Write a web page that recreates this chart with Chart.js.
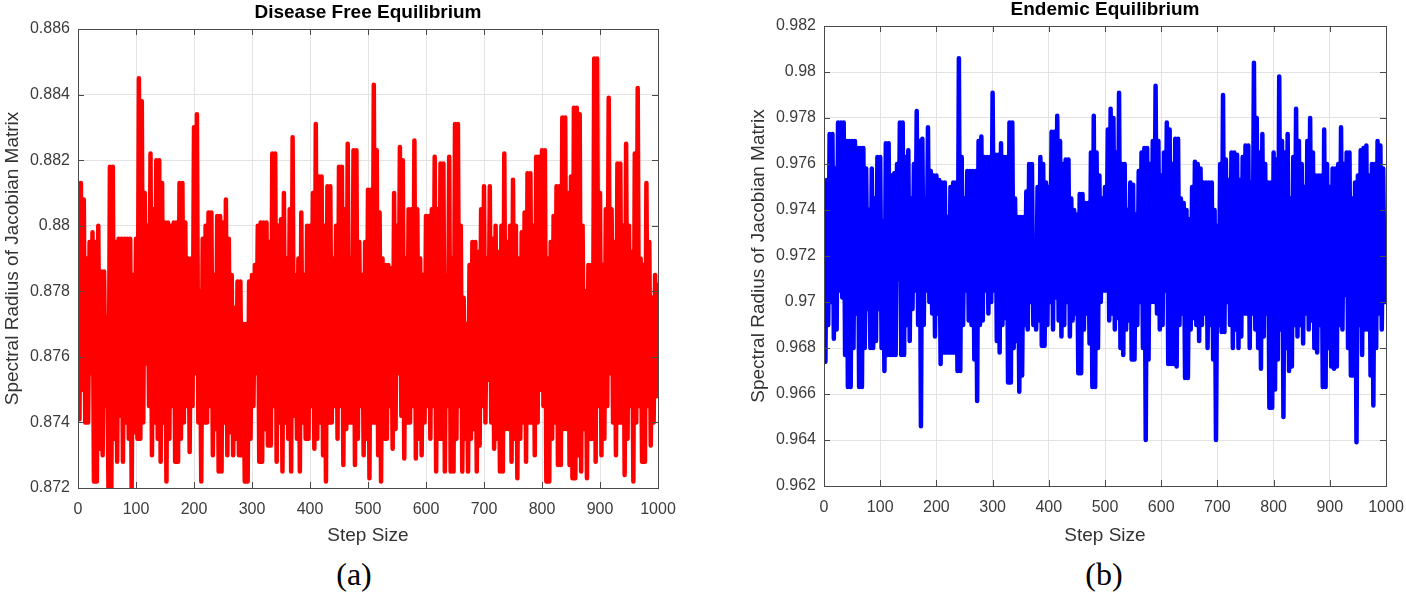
<!DOCTYPE html>
<html>
<head>
<meta charset="utf-8">
<script src="https://cdn.jsdelivr.net/npm/chart.js@4.4.1/dist/chart.umd.min.js"></script>
<style>
  body { margin: 0; background: #fff; width: 1406px; height: 593px; position: relative; overflow: hidden; }
  .panel { position: absolute; top: 0; height: 552px; }
  #panelA { left: 0; width: 700px; }
  #panelB { left: 700px; width: 706px; }
  .tag { position: absolute; top: 555px; width: 80px; text-align: center; font-family: "Liberation Serif", "Times New Roman", serif; font-size: 32px; color: #000; line-height: 38px; }
</style>
</head>
<body>
<div class="panel" id="panelA"><canvas id="chartA"></canvas></div>
<div class="panel" id="panelB"><canvas id="chartB"></canvas></div>
<div class="tag" style="left:314px">(a)</div>
<div class="tag" style="left:1064px">(b)</div>
<script>
// Spectral radius: local max (hi) at steps 0,5,...,1000
// and local min (lo) at steps 2.5,7.5,...,997.5
const hiA = [
  0.8813,0.8813,0.8808,0.8790,0.8795,0.8798,0.8795,0.8800,0.8786,0.8786,
  0.8772,0.8818,0.8818,0.8795,0.8796,0.8796,0.8796,0.8796,0.8796,0.8785,
  0.8796,0.8845,0.8838,0.8810,0.8800,0.8822,0.8805,0.8820,0.8820,0.8813,
  0.8801,0.8801,0.8800,0.8801,0.8801,0.8813,0.8813,0.8801,0.8790,0.8790,
  0.8830,0.8834,0.8780,0.8796,0.8800,0.8804,0.8804,0.8785,0.8803,0.8803,
  0.8801,0.8808,0.8796,0.8785,0.8775,0.8783,0.8783,0.8770,0.8770,0.8783,
  0.8785,0.8788,0.8800,0.8801,0.8801,0.8801,0.8795,0.8822,0.8822,0.8800,
  0.8802,0.8810,0.8790,0.8805,0.8827,0.8785,0.8790,0.8804,0.8785,0.8800,
  0.8800,0.8810,0.8831,0.8815,0.8815,0.8800,0.8812,0.8812,0.8790,0.8800,
  0.8818,0.8818,0.8805,0.8825,0.8790,0.8823,0.8823,0.8795,0.8785,0.8795,
  0.8811,0.8811,0.8843,0.8823,0.8804,0.8790,0.8788,0.8788,0.8787,0.8810,
  0.8800,0.8824,0.8820,0.8790,0.8805,0.8805,0.8826,0.8805,0.8790,0.8785,
  0.8803,0.8803,0.8805,0.8821,0.8805,0.8819,0.8819,0.8785,0.8821,0.8790,
  0.8831,0.8831,0.8800,0.8778,0.8770,0.8788,0.8795,0.8795,0.8792,0.8805,
  0.8812,0.8790,0.8812,0.8796,0.8800,0.8792,0.8800,0.8822,0.8795,0.8800,
  0.8814,0.8800,0.8790,0.8798,0.8804,0.8816,0.8816,0.8800,0.8821,0.8821,
  0.8823,0.8823,0.8790,0.8795,0.8803,0.8812,0.8812,0.8833,0.8833,0.8810,
  0.8815,0.8836,0.8836,0.8834,0.8800,0.8780,0.8788,0.8788,0.8851,0.8851,
  0.8810,0.8788,0.8805,0.8839,0.8805,0.8795,0.8819,0.8819,0.8800,0.8825,
  0.8800,0.8792,0.8822,0.8842,0.8790,0.8788,0.8813,0.8795,0.8778,0.8785,
  0.8782
];
const loA = [
  0.8741,0.8750,0.8740,0.8740,0.8755,0.8722,0.8722,0.8732,0.8730,0.8745,
  0.8720,0.8720,0.8735,0.8728,0.8742,0.8728,0.8740,0.8735,0.8720,0.8737,
  0.8735,0.8735,0.8740,0.8758,0.8745,0.8730,0.8740,0.8735,0.8728,0.8740,
  0.8722,0.8735,0.8745,0.8728,0.8728,0.8735,0.8740,0.8745,0.8731,0.8745,
  0.8755,0.8740,0.8722,0.8740,0.8740,0.8745,0.8730,0.8738,0.8725,0.8725,
  0.8740,0.8730,0.8737,0.8730,0.8735,0.8730,0.8730,0.8722,0.8722,0.8735,
  0.8745,0.8755,0.8728,0.8728,0.8738,0.8733,0.8733,0.8745,0.8728,0.8740,
  0.8725,0.8740,0.8735,0.8725,0.8742,0.8735,0.8725,0.8740,0.8735,0.8735,
  0.8745,0.8732,0.8735,0.8740,0.8730,0.8722,0.8740,0.8740,0.8745,0.8735,
  0.8745,0.8727,0.8738,0.8740,0.8740,0.8727,0.8735,0.8745,0.8730,0.8735,
  0.8723,0.8740,0.8740,0.8730,0.8722,0.8735,0.8735,0.8745,0.8732,0.8738,
  0.8755,0.8742,0.8729,0.8740,0.8740,0.8745,0.8729,0.8735,0.8730,0.8740,
  0.8745,0.8735,0.8745,0.8725,0.8735,0.8735,0.8725,0.8745,0.8725,0.8725,
  0.8735,0.8745,0.8725,0.8735,0.8725,0.8735,0.8738,0.8725,0.8733,0.8745,
  0.8740,0.8753,0.8740,0.8732,0.8735,0.8725,0.8725,0.8738,0.8738,0.8728,
  0.8735,0.8723,0.8735,0.8740,0.8728,0.8740,0.8740,0.8730,0.8740,0.8750,
  0.8745,0.8722,0.8722,0.8735,0.8740,0.8727,0.8727,0.8738,0.8738,0.8727,
  0.8723,0.8723,0.8730,0.8725,0.8738,0.8723,0.8735,0.8735,0.8728,0.8745,
  0.8730,0.8735,0.8745,0.8755,0.8740,0.8730,0.8740,0.8740,0.8724,0.8735,
  0.8745,0.8722,0.8740,0.8745,0.8728,0.8728,0.8745,0.8733,0.8740,0.8748
];
const hiB = [
  0.9747,0.9753,0.9773,0.9773,0.9758,0.9778,0.9778,0.9778,0.9770,0.9770,
  0.9770,0.9770,0.9767,0.9767,0.9767,0.9758,0.9740,0.9758,0.9745,0.9763,
  0.9763,0.9735,0.9769,0.9769,0.9755,0.9756,0.9760,0.9778,0.9778,0.9763,
  0.9766,0.9745,0.9760,0.9783,0.9770,0.9771,0.9745,0.9776,0.9757,0.9755,
  0.9755,0.9753,0.9752,0.9752,0.9737,0.9750,0.9752,0.9752,0.9806,0.9763,
  0.9745,0.9757,0.9757,0.9757,0.9757,0.9770,0.9772,0.9763,0.9763,0.9763,
  0.9791,0.9764,0.9764,0.9769,0.9763,0.9763,0.9778,0.9778,0.9745,0.9737,
  0.9737,0.9737,0.9748,0.9760,0.9760,0.9725,0.9750,0.9763,0.9760,0.9752,
  0.9750,0.9774,0.9774,0.9781,0.9770,0.9760,0.9762,0.9762,0.9745,0.9740,
  0.9738,0.9747,0.9747,0.9743,0.9743,0.9765,0.9781,0.9765,0.9755,0.9745,
  0.9750,0.9775,0.9784,0.9780,0.9765,0.9791,0.9760,0.9760,0.9740,0.9752,
  0.9751,0.9738,0.9757,0.9765,0.9767,0.9767,0.9760,0.9770,0.9794,0.9770,
  0.9755,0.9765,0.9778,0.9775,0.9760,0.9771,0.9771,0.9745,0.9743,0.9740,
  0.9736,0.9750,0.9761,0.9760,0.9758,0.9752,0.9752,0.9752,0.9752,0.9740,
  0.9733,0.9760,0.9790,0.9762,0.9753,0.9765,0.9765,0.9764,0.9753,0.9763,
  0.9768,0.9768,0.9752,0.9804,0.9780,0.9765,0.9773,0.9760,0.9752,0.9752,
  0.9765,0.9762,0.9798,0.9770,0.9765,0.9773,0.9745,0.9763,0.9784,0.9770,
  0.9760,0.9750,0.9770,0.9780,0.9765,0.9755,0.9755,0.9755,0.9775,0.9760,
  0.9750,0.9758,0.9758,0.9760,0.9776,0.9760,0.9765,0.9765,0.9745,0.9752,
  0.9755,0.9766,0.9767,0.9768,0.9755,0.9760,0.9760,0.9770,0.9768,0.9758,
  0.9732
];
const loB = [
  0.9674,0.9690,0.9700,0.9684,0.9688,0.9705,0.9702,0.9677,0.9663,0.9663,
  0.9680,0.9695,0.9663,0.9663,0.9680,0.9697,0.9680,0.9680,0.9683,0.9697,
  0.9680,0.9670,0.9677,0.9677,0.9677,0.9677,0.9710,0.9677,0.9677,0.9690,
  0.9683,0.9697,0.9705,0.9690,0.9646,0.9690,0.9705,0.9700,0.9695,0.9685,
  0.9695,0.9673,0.9678,0.9678,0.9678,0.9678,0.9678,0.9670,0.9670,0.9690,
  0.9705,0.9692,0.9690,0.9675,0.9657,0.9690,0.9692,0.9705,0.9695,0.9700,
  0.9705,0.9683,0.9678,0.9690,0.9693,0.9665,0.9665,0.9680,0.9683,0.9661,
  0.9668,0.9690,0.9688,0.9700,0.9690,0.9688,0.9692,0.9681,0.9681,0.9690,
  0.9700,0.9688,0.9702,0.9692,0.9685,0.9690,0.9700,0.9685,0.9692,0.9695,
  0.9669,0.9669,0.9688,0.9695,0.9682,0.9663,0.9663,0.9680,0.9700,0.9705,
  0.9705,0.9692,0.9695,0.9688,0.9693,0.9680,0.9677,0.9688,0.9692,0.9675,
  0.9675,0.9690,0.9700,0.9680,0.9640,0.9675,0.9700,0.9700,0.9695,0.9688,
  0.9690,0.9705,0.9673,0.9673,0.9673,0.9672,0.9690,0.9695,0.9667,0.9667,
  0.9688,0.9693,0.9690,0.9683,0.9690,0.9695,0.9680,0.9690,0.9675,0.9640,
  0.9690,0.9687,0.9687,0.9700,0.9690,0.9680,0.9688,0.9680,0.9685,0.9695,
  0.9695,0.9680,0.9695,0.9688,0.9680,0.9671,0.9685,0.9695,0.9654,0.9654,
  0.9662,0.9675,0.9688,0.9650,0.9680,0.9670,0.9672,0.9690,0.9685,0.9690,
  0.9682,0.9695,0.9688,0.9692,0.9680,0.9678,0.9690,0.9663,0.9663,0.9680,
  0.9672,0.9671,0.9672,0.9690,0.9688,0.9703,0.9680,0.9668,0.9668,0.9639,
  0.9690,0.9677,0.9688,0.9688,0.9668,0.9655,0.9680,0.9695,0.9688,0.9700
];

// step positions of the samples and axis ticks
const hiSteps = hiA.map((_, i) => i * 5);
const loSteps = loA.map((_, i) => i * 5 + 2.5);
const xTicks = [0, 100, 200, 300, 400, 500, 600, 700, 800, 900, 1000];
const yTicksA = [0.872, 0.874, 0.876, 0.878, 0.88, 0.882, 0.884, 0.886];
const yTicksB = [0.962, 0.964, 0.966, 0.968, 0.97, 0.972, 0.974, 0.976, 0.978, 0.98, 0.982];

Chart.defaults.font.family = '"Liberation Sans", Arial, sans-serif';

function zigzag(hi, lo) {
  const pts = [];
  hi.forEach((v, i) => {
    pts.push({ x: hiSteps[i], y: v });
    if (i < lo.length) pts.push({ x: loSteps[i], y: lo[i] });
  });
  return pts;
}

// matlab style box with inward tick marks
const axesBox = {
  id: 'axesBox',
  afterDatasetsDraw(chart) {
    const { ctx, chartArea: a, scales: { x, y } } = chart;
    ctx.save();
    ctx.strokeStyle = '#4a4a4a';
    ctx.lineWidth = 1;
    ctx.beginPath();
    x.ticks.forEach(t => {
      const px = Math.round(x.getPixelForValue(t.value)) + 0.5;
      ctx.moveTo(px, a.bottom); ctx.lineTo(px, a.bottom - 6);
      ctx.moveTo(px, a.top); ctx.lineTo(px, a.top + 6);
    });
    y.ticks.forEach(t => {
      const py = Math.round(y.getPixelForValue(t.value)) + 0.5;
      ctx.moveTo(a.left, py); ctx.lineTo(a.left + 6, py);
      ctx.moveTo(a.right, py); ctx.lineTo(a.right - 6, py);
    });
    ctx.stroke();
    ctx.strokeRect(Math.round(a.left) + 0.5, Math.round(a.top) + 0.5,
      Math.round(a.right - a.left), Math.round(a.bottom - a.top));
    ctx.restore();
  }
};

function makeChart(id, cfg) {
  new Chart(document.getElementById(id), {
    type: 'line',
    data: {
      datasets: [{
        data: zigzag(cfg.hi, cfg.lo),
        borderColor: cfg.color,
        borderWidth: 4.5,
        borderJoinStyle: 'round',
        borderCapStyle: 'round',
        pointRadius: 0,
        tension: 0
      }]
    },
    options: {
      responsive: true,
      maintainAspectRatio: false,
      animation: false,
      events: [],
      layout: { padding: cfg.padding },
      plugins: {
        legend: { display: false },
        tooltip: { enabled: false },
        title: {
          display: true,
          text: cfg.title,
          fullSize: false,
          color: '#000',
          font: { size: 19, weight: 'bold', lineHeight: 1 },
          padding: cfg.titlePad
        }
      },
      scales: {
        x: {
          type: 'linear',
          min: 0, max: 1000,
          afterBuildTicks: s => { s.ticks = xTicks.map(v => ({ value: v })); },
          afterFit: s => { s.height = cfg.xHeight; s.paddingLeft = 0; s.paddingRight = 0; },
          grid: { color: '#e3e3e3', drawTicks: false },
          border: { display: false },
          ticks: { color: '#3c3c3c', font: { size: 16 }, padding: 12, maxRotation: 0, callback: v => String(v) },
          title: { display: true, text: 'Step Size', color: '#333', font: { size: 19 }, padding: { top: 0, bottom: 4.6 } }
        },
        y: {
          min: cfg.yTicks[0], max: cfg.yTicks[cfg.yTicks.length - 1],
          afterBuildTicks: s => { s.ticks = cfg.yTicks.map(v => ({ value: v })); },
          afterFit: s => { s.width = cfg.yWidth; },
          grid: { color: '#e3e3e3', drawTicks: false },
          border: { display: false },
          ticks: { color: '#3c3c3c', font: { size: 16 }, padding: 8, callback: v => String(+v.toFixed(3)) },
          title: { display: true, text: 'Spectral Radius of Jacobian Matrix', color: '#333', font: { size: 19 }, padding: { top: 1, bottom: 0 } }
        }
      }
    },
    plugins: [axesBox]
  });
}

makeChart('chartA', {
  hi: hiA, lo: loA, color: '#ff0000', title: 'Disease Free Equilibrium',
  yTicks: yTicksA, padding: { left: 0, right: 42, top: 0, bottom: 0 },
  titlePad: { top: 3.5, bottom: 6.5 }, yWidth: 78, xHeight: 64
});
makeChart('chartB', {
  hi: hiB, lo: loB, color: '#0000ff', title: 'Endemic Equilibrium',
  yTicks: yTicksB, padding: { left: 46, right: 20, top: 0, bottom: 0 },
  titlePad: { top: 0, bottom: 7 }, yWidth: 78, xHeight: 66
});
</script>
</body>
</html>
